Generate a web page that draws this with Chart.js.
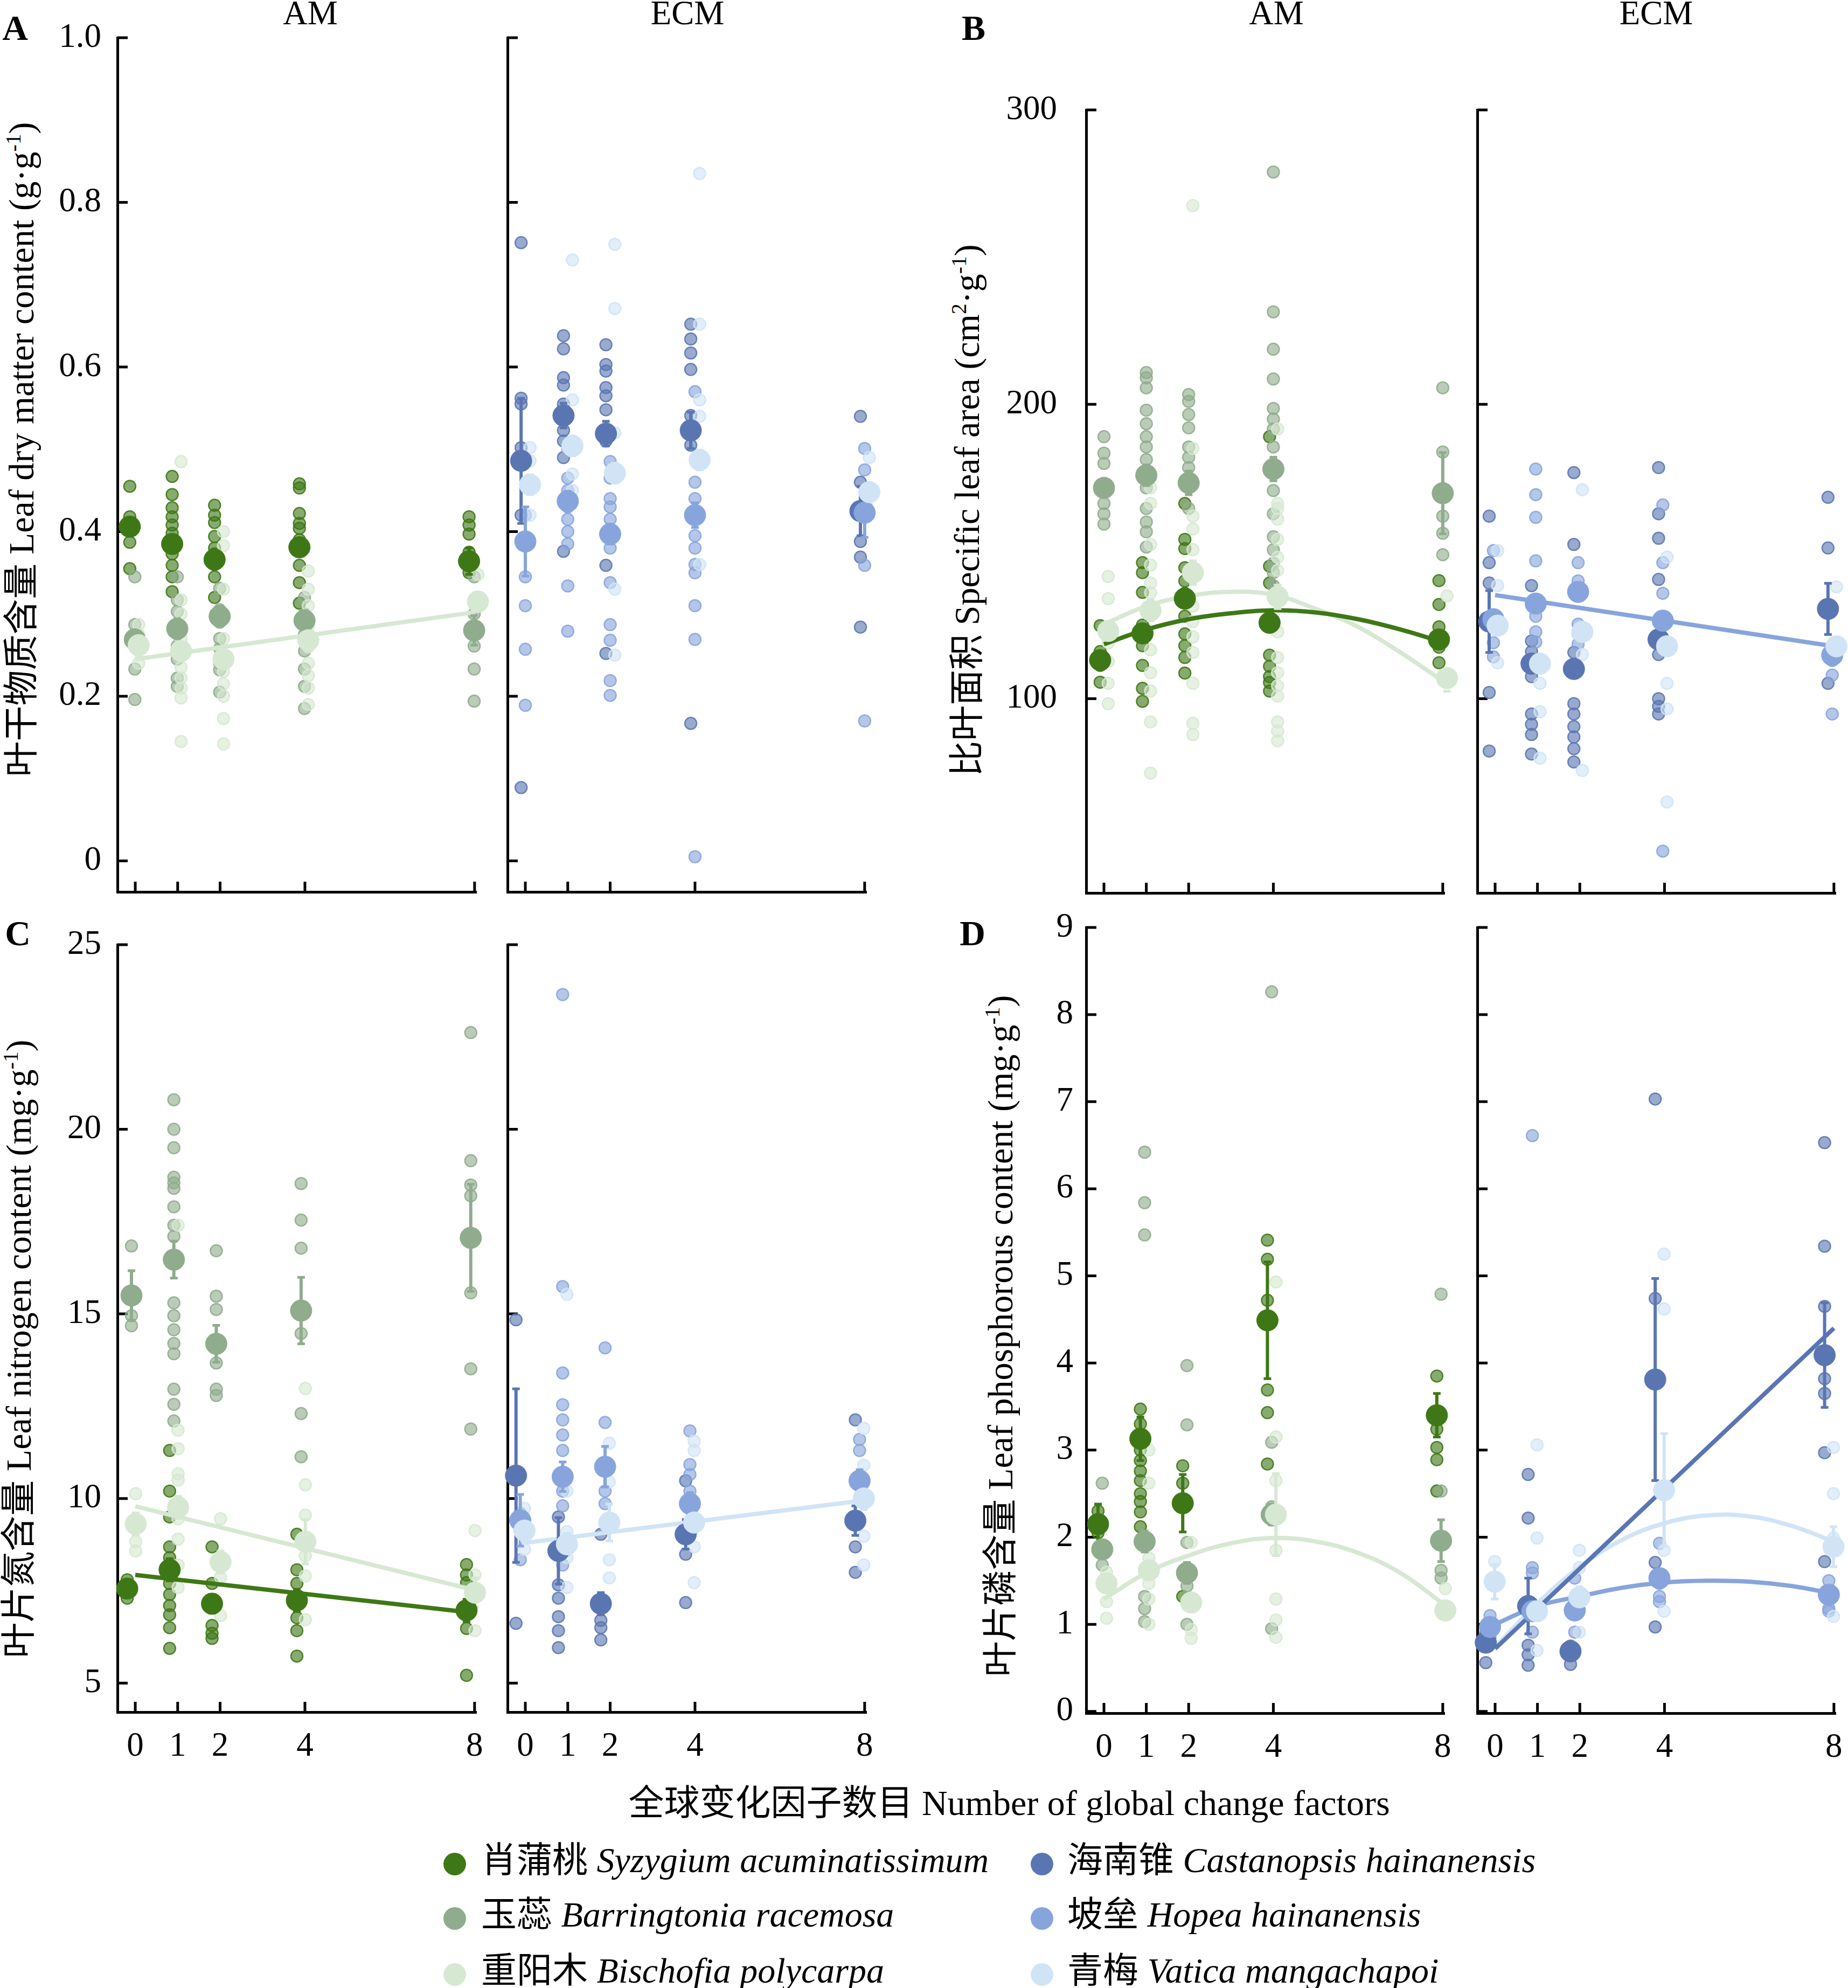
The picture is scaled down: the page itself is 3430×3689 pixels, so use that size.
<!DOCTYPE html>
<html>
<head>
<meta charset="utf-8">
<script src="https://cdn.jsdelivr.net/npm/chart.js@4.4.1/dist/chart.umd.min.js"></script>
<style>
  html, body { margin: 0; padding: 0; background: #fff; }
  body { width: 3430px; height: 3689px; position: relative; overflow: hidden;
         font-family: 'Liberation Serif', 'Noto Sans CJK SC', serif; color: #000; }
  canvas { position: absolute; }
  .t { position: absolute; white-space: nowrap; line-height: 1; transform: translate(-50%, -50%); }
  .rot { transform: translate(-50%, -50%) rotate(-90deg); }
  .lg { position: absolute; white-space: nowrap; line-height: 1; font-size: 66px; transform: translateY(-50%); }
  .dot { display: inline-block; width: 42px; height: 42px; border-radius: 50%; vertical-align: middle; }
  sup { font-size: 0.6em; vertical-align: 0; position: relative; top: -0.6em; }
</style>
</head>
<body>

<div class="t" style="left:28px;top:52px;font-size:66px;font-weight:bold">A</div>
<div class="t" style="left:1807px;top:52px;font-size:66px;font-weight:bold">B</div>
<div class="t" style="left:33px;top:1732px;font-size:66px;font-weight:bold">C</div>
<div class="t" style="left:1805px;top:1732px;font-size:66px;font-weight:bold">D</div>

<div class="t" style="left:576px;top:24px;font-size:63px">AM</div>
<div class="t" style="left:1276px;top:24px;font-size:63px">ECM</div>
<div class="t" style="left:2369px;top:24px;font-size:63px">AM</div>
<div class="t" style="left:3074px;top:24px;font-size:63px">ECM</div>

<div class="t rot" style="left:40px;top:834px;font-size:66px">叶干物质含量 Leaf dry matter content (g·g<sup>-1</sup>)</div>
<div class="t rot" style="left:1795px;top:947px;font-size:66px">比叶面积 Specific leaf area (cm<sup>2</sup>·g<sup>-1</sup>)</div>
<div class="t rot" style="left:35px;top:2503px;font-size:66px">叶片氮含量 Leaf nitrogen content (mg·g<sup>-1</sup>)</div>
<div class="t rot" style="left:1857px;top:2479px;font-size:66px">叶片磷含量 Leaf phosphorous content (mg·g<sup>-1</sup>)</div>

<div class="t" style="left:1873px;top:3346px;font-size:66px">全球变化因子数目 Number of global change factors</div>

<div class="lg" style="left:823px;top:3452px"><span class="dot" style="background:#3e7816;margin-right:28px"></span>肖蒲桃 <i>Syzygium acuminatissimum</i></div>
<div class="lg" style="left:823px;top:3553px"><span class="dot" style="background:#8fac8c;margin-right:28px"></span>玉蕊 <i>Barringtonia racemosa</i></div>
<div class="lg" style="left:823px;top:3657px"><span class="dot" style="background:#d6e8d2;margin-right:28px"></span>重阳木 <i>Bischofia polycarpa</i></div>
<div class="lg" style="left:1913px;top:3452px"><span class="dot" style="background:#5a76b2;margin-right:26px"></span>海南锥 <i>Castanopsis hainanensis</i></div>
<div class="lg" style="left:1913px;top:3553px"><span class="dot" style="background:#87a5dc;margin-right:26px"></span>坡垒 <i>Hopea hainanensis</i></div>
<div class="lg" style="left:1913px;top:3657px"><span class="dot" style="background:#d0e4f6;margin-right:26px"></span>青梅 <i>Vatica mangachapoi</i></div>

<script>
// x categories and tick values
const levels = [0, 1, 2, 4, 8];
const fitX = [0, 1, 2, 3, 4, 5, 6, 7, 8];
const fitXLine = [0, 8];
const ldmcTicks = [0, 0.2, 0.4, 0.6, 0.8, 1.0];
const slaTicks = [100, 200, 300];
const nitroTicks = [5, 10, 15, 20, 25];
const phosTicks = [0, 1, 2, 3, 4, 5, 6, 7, 8, 9];

// A: leaf dry matter content, AM species (Syzygium, Barringtonia, Bischofia), per level
const ldmcAmRaw = [
  [[0.455, 0.418, 0.41, 0.387, 0.355], [0.467, 0.445, 0.429, 0.418, 0.408, 0.398, 0.387, 0.373, 0.359, 0.345, 0.327],
   [0.432, 0.42, 0.411, 0.394, 0.38, 0.373, 0.36, 0.345, 0.32], [0.458, 0.453, 0.422, 0.41, 0.404, 0.39, 0.359, 0.338, 0.313],
   [0.418, 0.408, 0.397, 0.375, 0.35]],
  [[0.345, 0.287, 0.275, 0.262, 0.233, 0.196], [0.345, 0.317, 0.303, 0.285, 0.261, 0.245, 0.222, 0.212],
   [0.331, 0.305, 0.29, 0.27, 0.258, 0.24, 0.232, 0.205], [0.32, 0.3, 0.275, 0.255, 0.233, 0.212, 0.185],
   [0.345, 0.3, 0.261, 0.233, 0.194]],
  [[0.287, 0.275, 0.255, 0.24], [0.485, 0.317, 0.3, 0.27, 0.25, 0.235, 0.222, 0.21, 0.198, 0.145],
   [0.4, 0.383, 0.33, 0.3, 0.27, 0.25, 0.23, 0.215, 0.2, 0.173, 0.142], [0.352, 0.33, 0.31, 0.285, 0.26, 0.24, 0.225, 0.21, 0.19],
   [0.348, 0.33, 0.31]]
];
const ldmcAmMean = [[0.406, 0.385, 0.366, 0.381, 0.364], [0.269, 0.282, 0.297, 0.292, 0.28], [0.262, 0.255, 0.245, 0.268, 0.315]];
const ldmcAmSe = [[0.008, 0.01, 0.01, 0.01, 0.016], [0.01, 0.012, 0.012, 0.012, 0.018], [0.008, 0.01, 0.01, 0.012, 0.012]];
const ldmcAmFit = [{ sp: 2, x: fitXLine, y: [0.245, 0.302] }];

// A: ECM species (Castanopsis, Hopea, Vatica)
const ldmcEcmRaw = [
  [[0.751, 0.562, 0.555, 0.502, 0.42, 0.089], [0.638, 0.622, 0.587, 0.578, 0.555, 0.523, 0.51, 0.49, 0.376],
   [0.627, 0.603, 0.595, 0.575, 0.565, 0.548, 0.51, 0.359, 0.252], [0.652, 0.634, 0.617, 0.597, 0.541, 0.505, 0.167],
   [0.54, 0.46, 0.388, 0.369, 0.284]],
  [[0.42, 0.345, 0.31, 0.257, 0.189], [0.5, 0.465, 0.45, 0.43, 0.415, 0.4, 0.385, 0.334, 0.279],
   [0.485, 0.465, 0.44, 0.43, 0.415, 0.38, 0.338, 0.287, 0.268, 0.219, 0.201],
   [0.57, 0.46, 0.44, 0.425, 0.395, 0.38, 0.36, 0.35, 0.31, 0.269, 0.005], [0.501, 0.475, 0.359, 0.17]],
  [[0.502, 0.486, 0.42], [0.73, 0.56, 0.5, 0.47, 0.45], [0.749, 0.671, 0.52, 0.47, 0.33, 0.25],
   [0.835, 0.652, 0.56, 0.54, 0.36], [0.49, 0.322]]
];
const ldmcEcmMean = [[0.486, 0.541, 0.519, 0.523, 0.425], [0.388, 0.437, 0.397, 0.42, 0.423], [0.457, 0.504, 0.471, 0.487, 0.448]];
const ldmcEcmSe = [[0.076, 0.015, 0.015, 0.022, 0.03], [0.042, 0.012, 0.012, 0.015, 0.03], [0.012, 0.012, 0.012, 0.012, 0.015]];
const ldmcEcmFit = [];

// B: specific leaf area
const slaAmRaw = [
  [[124.8, 116, 111.3, 105.6], [146.2, 142.8, 136.1, 125, 118, 111.3, 103.5, 99.1],
   [166.3, 154.1, 151, 144.5, 140, 135.8, 128, 122, 118, 114, 108.7], [189, 145, 139.3, 114.8, 111, 107.5, 105.5, 102.6],
   [140.1, 132, 124.4, 117.5, 112.2]],
  [[189, 183.4, 179.9, 171.6, 166.3, 162.8, 159.3], [210.8, 209, 205.6, 198, 193.4, 189, 185.5, 181.2, 176, 171.6, 164.6, 160, 156.7, 151.5],
   [203.3, 201, 196.5, 192, 185.5, 182, 178.5, 172.4, 164.6],
   [278.9, 231.4, 218.7, 208.6, 198.6, 195, 191.6, 185.5, 170.7, 162.8, 155, 150.6, 146, 142.8, 138.4, 135],
   [205.6, 183.8, 162, 156.2, 148.9]],
  [[141.5, 134, 122.7, 119, 112.6, 105.2, 98.3], [171.6, 166.3, 152.4, 145.4, 139.3, 136, 129.7, 116.6, 108.8, 102.6, 92.1, 74.7],
   [267.5, 185, 162, 157.6, 150.6, 131.4, 126.2, 121, 115.7, 105.2, 91.6, 87.8],
   [191.6, 166.3, 164.6, 161, 154.1, 148, 143.6, 122.7, 114, 108.8, 104.4, 100.9, 92.1, 89, 85.7],
   [134.9, 127, 95.6, 88.7, 80.8]]
];
const slaAmMean = [[113.1, 122.2, 134.0, 125.8, 120.1], [171.6, 175.9, 173.3, 178.0, 169.8], [123.0, 130.0, 142.8, 134.6, 107.0]];
const slaAmSe = [[2.5, 3, 3, 3, 3], [3, 3.5, 4, 4, 13.8], [3, 3.5, 4, 4, 4.5]];
const slaAmFit = [
  { sp: 0, x: fitX, y: [118.5, 123.5, 127, 129, 130, 129.3, 127, 123.5, 119.2] },
  { sp: 2, x: fitX, y: [125.3, 131.4, 134.9, 136.3, 135.3, 130.5, 124.4, 115.7, 106.0] }
];

const slaEcmRaw = [
  [[162, 146.2, 139.3, 102.1, 82.2], [138.4, 119.6, 116, 107.5, 94.8, 91.3, 87.8, 81.2],
   [176.8, 152.4, 115.7, 98.3, 94.8, 90.5, 87, 83, 78.5], [178.5, 162.8, 154.5, 140.5, 115, 100, 97.4, 94.8],
   [168.4, 151.2, 105.2]],
  [[150.3, 119, 114.2], [178, 169.3, 161.6, 146.8, 128, 122.7, 119.2], [146.2, 140, 125.3, 122, 118.5],
   [165.8, 146.2, 135.8, 48.2], [113, 108, 94.8]],
  [[150.3, 138.4, 112.2], [105.2, 95.6, 79.8], [171.0, 115, 75.6], [148.1, 105.2, 96.5, 64.9], [138, 121, 110]]
];
const slaEcmMean = [[126.2, 111.9, 110.1, 120.1, 130.5], [127.0, 132.3, 136.3, 126.5, 114.8], [124.8, 111.9, 122.7, 117.8, 117.8]];
const slaEcmSe = [[10.5, 3, 3, 3, 8.7], [3, 3, 3, 3, 3], [3, 3, 3, 3, 3]];
const slaEcmFit = [{ sp: 1, x: fitXLine, y: [135.2, 117.8] }];

// C: leaf nitrogen content
const nitroAmRaw = [
  [[7.8, 7.5, 7.3], [11.3, 10.2, 9.5, 8.69, 8.4, 7.7, 7.4, 7.1, 6.85, 6.5, 5.94], [8.69, 7.7, 6.56, 6.35, 6.21],
   [9.03, 8.07, 7.7, 6.77, 6.42, 5.73], [8.21, 7.93, 7.72, 6.48, 5.21]],
  [[16.84, 14.95, 14.68], [20.8, 20.0, 19.5, 18.7, 18.55, 18.4, 17.9, 17.4, 17.1, 15.3, 14.95, 14.57, 14.2, 13.92, 12.96, 12.55, 12.1],
   [16.71, 15.48, 15.12, 13.67, 12.96, 12.79], [18.53, 17.54, 16.78, 14.47, 12.3, 11.13],
   [22.62, 19.15, 18.49, 18.2, 15.57, 13.51, 11.88]],
  [[10.13, 8.83, 8.58], [17.4, 11.85, 11.35, 10.67, 10.5, 9.45, 8.9, 8.2, 7.59], [9.45, 8.42, 7.87, 6.83],
   [12.98, 10.37, 9.55, 8.45, 7.9, 6.72], [9.13, 7.93, 6.42]]
];
const nitroAmMean = [[7.56, 8.07, 7.15, 7.24, 6.97], [15.5, 16.47, 14.19, 15.09, 17.06], [9.31, 9.76, 8.28, 8.83, 7.45]];
const nitroAmSe = [[0.2, 0.3, 0.25, 0.3, 0.3], [0.67, 0.5, 0.5, 0.9, 1.45], [0.3, 0.3, 0.3, 0.6, 0.4]];
const nitroAmFit = [
  { sp: 0, x: fitXLine, y: [7.93, 6.9] },
  { sp: 2, x: fitXLine, y: [9.79, 7.52] }
];

const nitroEcmRaw = [
  [[14.84, 6.62], [9.5, 7.66, 7.3, 6.8, 6.42, 5.96], [9.03, 6.7, 6.5, 6.17], [10.48, 8.49, 7.18], [12.13, 8.69, 8.0]],
  [[9.6, 8.34], [23.65, 15.74, 13.4, 12.54, 12.13, 11.72, 11.3, 10.2, 9.8, 8.2], [14.08, 12.06, 10.2, 9.86],
   [11.83, 10.92, 10.65, 10.2], [11.6, 11.3, 10.48]],
  [[9.73, 8.62], [15.53, 10.2, 9.1, 8.4, 7.59], [11.5, 10.45, 8.34, 7.85], [11.55, 11.3, 8.69, 7.72], [11.9, 10.9, 8.98, 8.2]]
];
const nitroEcmMean = [[10.62, 8.58, 7.15, 9.03, 9.4], [9.41, 10.59, 10.86, 9.86, 10.48], [9.13, 8.76, 9.35, 9.35, 10.0]];
const nitroEcmSe = [[2.35, 0.9, 0.3, 0.4, 0.4], [0.7, 0.4, 0.55, 0.3, 0.3], [0.3, 0.3, 0.5, 0.3, 0.3]];
const nitroEcmFit = [{ sp: 2, x: fitXLine, y: [8.8, 9.95] }];

// D: leaf phosphorous content
const phosAmRaw = [
  [[2.3, 2.05], [3.47, 3.3, 3.0, 2.88, 2.76, 2.65, 2.5, 2.41, 2.29, 2.12], [2.82, 2.62, 1.32],
   [5.41, 5.19, 4.72, 3.69, 3.43, 2.84], [3.85, 3.24, 3.03, 2.89, 2.53]],
  [[2.62, 1.68], [6.42, 5.84, 5.47, 1.32, 1.18, 1.03], [3.97, 3.29, 1.94, 1.44, 1.0], [8.26, 3.09, 2.35, 2.2, 0.95],
   [4.79, 2.53, 1.62, 1.53]],
  [[1.6, 1.26, 1.07], [3.0, 2.62, 1.76, 1.47, 1.29, 1.0], [1.94, 0.94, 0.84], [4.93, 3.15, 2.65, 1.85, 1.29, 1.05, 0.85],
   [1.41, 1.0, 0.97]]
];
const phosAmMean = [[2.15, 3.13, 2.39, 4.49, 3.4], [1.86, 1.95, 1.59, 2.26, 1.96], [1.47, 1.62, 1.25, 2.26, 1.16]];
const phosAmSe = [[0.23, 0.25, 0.33, 0.67, 0.25], [0.1, 0.12, 0.12, 0.12, 0.24], [0.1, 0.1, 0.1, 0.47, 0.1]];
const phosAmFit = [{ sp: 2, x: fitX, y: [1.29, 1.59, 1.79, 1.93, 1.99, 1.95, 1.82, 1.59, 1.24] }];

const phosEcmRaw = [
  [[0.9, 0.56], [2.72, 2.22, 0.76, 0.65, 0.53], [0.75, 0.54], [7.03, 4.74, 1.71, 0.97], [6.53, 5.34, 4.65, 3.82, 3.65, 2.97, 1.72]],
  [[1.1, 0.85], [6.61, 1.65, 1.59, 1.12, 0.91], [1.53, 0.91, 0.7], [1.93, 1.47, 1.32, 1.26], [1.5, 1.18, 1.15]],
  [[1.72, 1.5], [3.06, 1.99, 1.15, 0.7], [1.85, 1.65, 0.91], [5.25, 4.62, 1.85, 1.15], [3.03, 2.5, 1.99, 1.09]]
];
const phosEcmMean = [[0.79, 1.21, 0.69, 3.81, 4.09], [0.97, 1.15, 1.16, 1.53, 1.34], [1.49, 1.15, 1.31, 2.54, 1.89]];
const phosEcmSe = [[0.08, 0.32, 0.08, 1.16, 0.6], [0.08, 0.08, 0.08, 0.08, 0.08], [0.2, 0.1, 0.12, 0.65, 0.23]];
const phosEcmFit = [
  { sp: 0, x: fitXLine, y: [0.72, 4.4] },
  { sp: 1, x: fitX, y: [1.0, 1.21, 1.32, 1.42, 1.48, 1.5, 1.49, 1.44, 1.35] },
  { sp: 2, x: fitX, y: [0.74, 1.24, 1.66, 1.97, 2.16, 2.25, 2.24, 2.13, 1.95] }
];

// styling
const amColors = ['#3e7816', '#8fac8c', '#d6e8d2'];
const ecmColors = ['#5a76b2', '#87a5dc', '#d0e4f6'];
const S = 3430 / 1460;
// room round each plot area: y labels on the left, x labels below, spare top/right for label overflow
const YW = 170, XH = 140, PADT = 140, PADR = 90;

Chart.defaults.font.family = "'Liberation Serif', serif";
Chart.defaults.color = '#000';

function rgba(hex, a) {
  const n = parseInt(hex.slice(1), 16);
  return `rgba(${n >> 16}, ${(n >> 8) & 255}, ${n & 255}, ${a})`;
}

const fmtLdmc = v => v === 0 ? '0' : v.toFixed(1);
const fmtInt = v => String(v);

// panel boxes are in the 1460-wide layout, scaled by S
const panels = [
  { box: [93, 29.6, 376.4, 704.5], y: [-0.0377, 1.0], ticks: ldmcTicks, fmt: fmtLdmc, pad: 30, yLab: true, xLab: false,
    colors: amColors, off: [-0.13, -0.01, 0.08], raw: ldmcAmRaw, mean: ldmcAmMean, se: ldmcAmSe, fits: ldmcAmFit },
  { box: [401, 29.6, 684.5, 704.5], y: [-0.0377, 1.0], ticks: ldmcTicks, fmt: fmtLdmc, pad: 30, yLab: false, xLab: false,
    colors: ecmColors, off: [-0.1, 0, 0.11], raw: ldmcEcmRaw, mean: ldmcEcmMean, se: ldmcEcmSe, fits: ldmcEcmFit },
  { box: [858, 87, 1141, 705.5], y: [34.0, 300], ticks: slaTicks, fmt: fmtInt, pad: 54, yLab: true, xLab: false,
    colors: amColors, off: [-0.09, 0, 0.1], raw: slaAmRaw, mean: slaAmMean, se: slaAmSe, fits: slaAmFit },
  { box: [1167, 87, 1450, 705.5], y: [34.0, 300], ticks: slaTicks, fmt: fmtInt, pad: 54, yLab: false, xLab: false,
    colors: ecmColors, off: [-0.14, -0.04, 0.06], raw: slaEcmRaw, mean: slaEcmMean, se: slaEcmSe, fits: slaEcmFit },
  { box: [93, 746, 376.4, 1352.5], y: [4.215, 25], ticks: nitroTicks, fmt: fmtInt, pad: 30, yLab: true, xLab: true,
    colors: amColors, off: [-0.19, -0.09, 0.01], raw: nitroAmRaw, mean: nitroAmMean, se: nitroAmSe, fits: nitroAmFit },
  { box: [401, 746, 684.5, 1352.5], y: [4.215, 25], ticks: nitroTicks, fmt: fmtInt, pad: 30, yLab: false, xLab: true,
    colors: ecmColors, off: [-0.22, -0.12, -0.02], raw: nitroEcmRaw, mean: nitroEcmMean, se: nitroEcmSe, fits: nitroEcmFit },
  { box: [858, 732.4, 1141, 1353], y: [-0.02, 9], ticks: phosTicks, fmt: fmtInt, pad: 24, yLab: true, xLab: true,
    colors: amColors, off: [-0.14, -0.04, 0.06], raw: phosAmRaw, mean: phosAmMean, se: phosAmSe, fits: phosAmFit },
  { box: [1167, 732.4, 1450, 1353], y: [-0.02, 9], ticks: phosTicks, fmt: fmtInt, pad: 24, yLab: false, xLab: true,
    colors: ecmColors, off: [-0.22, -0.12, -0.01], raw: phosEcmRaw, mean: phosEcmMean, se: phosEcmSe, fits: phosEcmFit }
];

// ticks that point into the plot, as in the original figure
const inwardTicks = {
  id: 'inwardTicks',
  beforeDatasetsDraw(chart, args, opts) {
    const { ctx, chartArea: a, scales: { x, y } } = chart;
    ctx.save();
    ctx.strokeStyle = '#000';
    ctx.lineWidth = 5;
    ctx.beginPath();
    opts.yTicks.forEach(v => {
      const py = y.getPixelForValue(v);
      ctx.moveTo(a.left, py);
      ctx.lineTo(a.left + 19, py);
    });
    levels.forEach(v => {
      const px = x.getPixelForValue(v);
      ctx.moveTo(px, a.bottom);
      ctx.lineTo(px, a.bottom - 19);
    });
    ctx.stroke();
    ctx.restore();
  }
};

function buildDatasets(p) {
  const ds = [];
  p.raw.forEach((sp, k) => {
    const data = [];
    sp.forEach((vals, i) => vals.forEach(v => data.push({ x: levels[i] + p.off[k], y: v })));
    ds.push({
      data, pointRadius: 11, borderWidth: 2.5,
      backgroundColor: rgba(p.colors[k], 0.62), borderColor: rgba(p.colors[k], 0.88),
      order: 42 - k, clip: false
    });
  });
  p.fits.forEach(f => {
    ds.push({
      data: f.x.map((x, i) => ({ x, y: f.y[i] })), showLine: true, pointRadius: 0,
      borderColor: p.colors[f.sp], borderWidth: 8, tension: f.x.length > 2 ? 0.4 : 0,
      order: 30, clip: false
    });
  });
  p.mean.forEach((m, k) => {
    const xs = levels.map(l => l + p.off[k]);
    const bars = [];
    m.forEach((v, i) => {
      bars.push({ x: xs[i], y: v - p.se[k][i] }, { x: xs[i], y: v + p.se[k][i] }, { x: xs[i], y: null });
    });
    ds.push({
      data: bars, showLine: true, spanGaps: false, borderColor: p.colors[k], borderWidth: 6,
      pointStyle: 'line', pointRadius: 7, pointBorderWidth: 5, pointBorderColor: p.colors[k],
      order: 22 - k, clip: false
    });
    ds.push({
      data: xs.map((x, i) => ({ x, y: m[i] })), pointRadius: 20, borderWidth: 1,
      backgroundColor: p.colors[k], borderColor: p.colors[k],
      order: 12 - k, clip: false
    });
  });
  return ds;
}

panels.forEach(p => {
  const [l, t, r, b] = p.box;
  const canvas = document.createElement('canvas');
  const left = Math.round(l * S - YW);
  const top = Math.round(t * S - PADT);
  const w = Math.round(r * S + PADR) - left;
  const h = Math.round(b * S + XH) - top;
  canvas.width = w;
  canvas.height = h;
  canvas.style.left = left + 'px';
  canvas.style.top = top + 'px';
  document.body.appendChild(canvas);

  new Chart(canvas, {
    type: 'scatter',
    data: { datasets: buildDatasets(p) },
    options: {
      responsive: false,
      animation: false,
      events: [],
      devicePixelRatio: 1,
      layout: { padding: { top: PADT, right: PADR, left: 0, bottom: 0 } },
      plugins: {
        legend: { display: false },
        tooltip: { enabled: false },
        inwardTicks: { yTicks: p.ticks }
      },
      scales: {
        x: {
          type: 'linear', min: -0.42, max: 8.04,
          afterBuildTicks: s => { s.ticks = levels.map(v => ({ value: v })); },
          afterFit: s => { s.height = XH; },
          grid: { display: true, drawOnChartArea: false, drawTicks: false },
          border: { display: true, width: 5, color: '#000' },
          ticks: { display: p.xLab, padding: 27, font: { size: 63 }, maxRotation: 0, autoSkip: false,
                   callback: v => String(v) }
        },
        y: {
          type: 'linear', min: p.y[0], max: p.y[1],
          afterBuildTicks: s => { s.ticks = p.ticks.map(v => ({ value: v })); },
          afterFit: s => { s.width = YW; },
          grid: { display: true, drawOnChartArea: false, drawTicks: false },
          border: { display: true, width: 5, color: '#000' },
          ticks: { display: p.yLab, padding: p.pad, font: { size: 63 }, autoSkip: false, callback: p.fmt }
        }
      }
    },
    plugins: [inwardTicks]
  });
});
</script>
</body>
</html>
